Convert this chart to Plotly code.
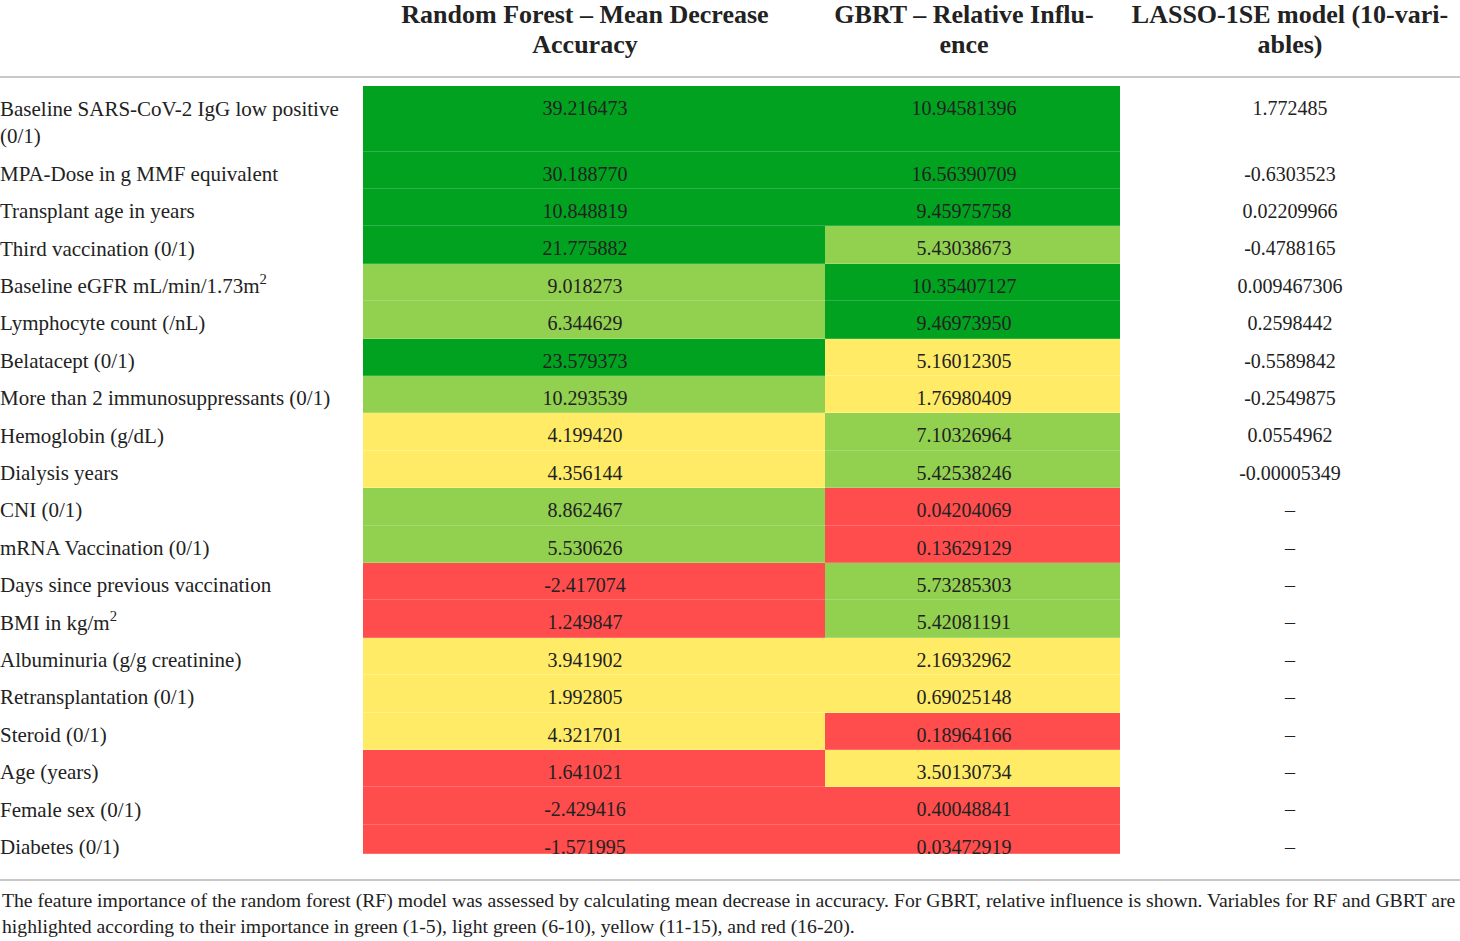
import plotly.graph_objects as go

# 표 데이터
variables = [
    "Baseline SARS-CoV-2 IgG low positive<br>(0/1)",
    "MPA-Dose in g MMF equivalent",
    "Transplant age in years",
    "Third vaccination (0/1)",
    "Baseline eGFR mL/min/1.73m<sup>2</sup>",
    "Lymphocyte count (/nL)",
    "Belatacept (0/1)",
    "More than 2 immunosuppressants (0/1)",
    "Hemoglobin (g/dL)",
    "Dialysis years",
    "CNI (0/1)",
    "mRNA Vaccination (0/1)",
    "Days since previous vaccination",
    "BMI in kg/m<sup>2</sup>",
    "Albuminuria (g/g creatinine)",
    "Retransplantation (0/1)",
    "Steroid (0/1)",
    "Age (years)",
    "Female sex (0/1)",
    "Diabetes (0/1)",
]
rf_mda = [39.216473, 30.188770, 10.848819, 21.775882, 9.018273, 6.344629, 23.579373,
          10.293539, 4.199420, 4.356144, 8.862467, 5.530626, -2.417074, 1.249847,
          3.941902, 1.992805, 4.321701, 1.641021, -2.429416, -1.571995]
gbrt_ri = [10.94581396, 16.56390709, 9.45975758, 5.43038673, 10.35407127, 9.46973950,
           5.16012305, 1.76980409, 7.10326964, 5.42538246, 0.04204069, 0.13629129,
           5.73285303, 5.42081191, 2.16932962, 0.69025148, 0.18964166, 3.50130734,
           0.40048841, 0.03472919]
lasso_coef = ["1.772485", "-0.6303523", "0.02209966", "-0.4788165", "0.009467306",
              "0.2598442", "-0.5589842", "-0.2549875", "0.0554962", "-0.00005349"] + ["–"] * 10

# 머리글 (줄 단위)
headers = [["Random Forest – Mean Decrease", "Accuracy"],
           ["GBRT – Relative Influ-", "ence"],
           ["LASSO-1SE model (10-vari-", "ables)"]]
footnote = ("The feature importance of the random forest (RF) model was assessed by calculating mean decrease in "
            "accuracy. For GBRT, relative influence is shown. Variables for RF and GBRT are<br>highlighted according "
            "to their importance in green (1-5), light green (6-10), yellow (11-15), and red (16-20).")

# 순위 그룹별 색상: 1-5, 6-10, 11-15, 16-20
rank_colors = ["#00a21f", "#92d050", "#ffeb66", "#ff4d4d"]
rank_tints = ["#2eb24a", "#a6da70", "#fff18c", "#ff6f6f"]


def rank_group(values):
    order = sorted(range(len(values)), key=lambda i: -values[i])
    out = [0] * len(values)
    for r, i in enumerate(order):
        out[i] = r // 5
    return out


def step_scale(colors):
    n = len(colors)
    scale = []
    for k, c in enumerate(colors):
        scale += [[k / n, c], [(k + 1) / n, c]]
    return scale


rf_group = rank_group(rf_mda)
gbrt_group = rank_group(gbrt_ri)
z = [[a, b] for a, b in zip(rf_group, gbrt_group)]

# 레이아웃 (픽셀 좌표계)
W, H = 1460, 941
col_edges = [0, 363, 825, 1120, 1460]
text_x = [585, 964, 1290]          # 값 열의 글자 가운데
table_top = 86
first_row_h, row_h, last_row_h = 65.6, 37.4, 29.2
line_gap = 28
text_off = 24
font_family = "Liberation Serif, Times New Roman, serif"
ink = "#222222"

n = len(variables)
heights = [first_row_h] + [row_h] * (n - 2) + [last_row_h]
y_edges = [table_top]
for h in heights:
    y_edges.append(y_edges[-1] + h)
row_y = [y_edges[i] + text_off + (variables[i].count("<br>")) * line_gap / 2 for i in range(n)]
num_y = [y_edges[i] + text_off for i in range(n)]

fig = go.Figure()

# 셀 배경: 아래층은 옅은 색(구분선), 위층은 본 색
for colors, gap in [(rank_tints, 0), (rank_colors, 1)]:
    fig.add_trace(go.Heatmap(
        x=col_edges[1:4], y=y_edges, z=z,
        zmin=-0.5, zmax=len(colors) - 0.5, colorscale=step_scale(colors),
        showscale=False, xgap=0, ygap=gap, hoverinfo="skip",
    ))

# 변수 이름
fig.add_trace(go.Scatter(
    x=[col_edges[0]] * n, y=row_y, text=variables, mode="text",
    textposition="middle right", hoverinfo="skip", cliponaxis=False,
    textfont=dict(family=font_family, size=21, color=ink),
))

# 값 열
for xc, texts in zip(text_x, [[f"{v:.6f}" for v in rf_mda],
                              [f"{v:.8f}" for v in gbrt_ri],
                              lasso_coef]):
    fig.add_trace(go.Scatter(
        x=[xc] * n, y=num_y, text=texts, mode="text",
        textposition="middle center", hoverinfo="skip", cliponaxis=False,
        textfont=dict(family=font_family, size=20, color=ink),
    ))

# 머리글
hx, hy, ht = [], [], []
for xc, lines in zip(text_x, headers):
    for k, line in enumerate(lines):
        hx.append(xc)
        hy.append(16.5 + 29.5 * k)
        ht.append(f"<b>{line}</b>")
fig.add_trace(go.Scatter(
    x=hx, y=hy, text=ht, mode="text", textposition="middle center",
    hoverinfo="skip", cliponaxis=False,
    textfont=dict(family=font_family, size=26, color=ink),
))

# 머리글 아래 구분선과 표 아래 구분선
for ypx in [77, 880]:
    fig.add_shape(type="line", xref="paper", yref="y", x0=0, x1=1,
                  y0=ypx, y1=ypx, line=dict(color="#c8c8c8", width=2))

fig.add_annotation(text=footnote, xref="paper", yref="y", x=0, y=913,
                   xanchor="left", yanchor="middle", align="left", showarrow=False,
                   font=dict(family=font_family, size=19.7, color=ink))

fig.update_layout(
    width=W, height=H,
    margin=dict(l=0, r=0, t=0, b=0),
    paper_bgcolor="white",
    plot_bgcolor="white",
    showlegend=False,
    xaxis=dict(range=[0, W], visible=False, fixedrange=True),
    yaxis=dict(range=[H, 0], visible=False, fixedrange=True),
)

fig.write_html("out.html", config={"displayModeBar": False},
               post_script="document.body.style.margin='0px';")
